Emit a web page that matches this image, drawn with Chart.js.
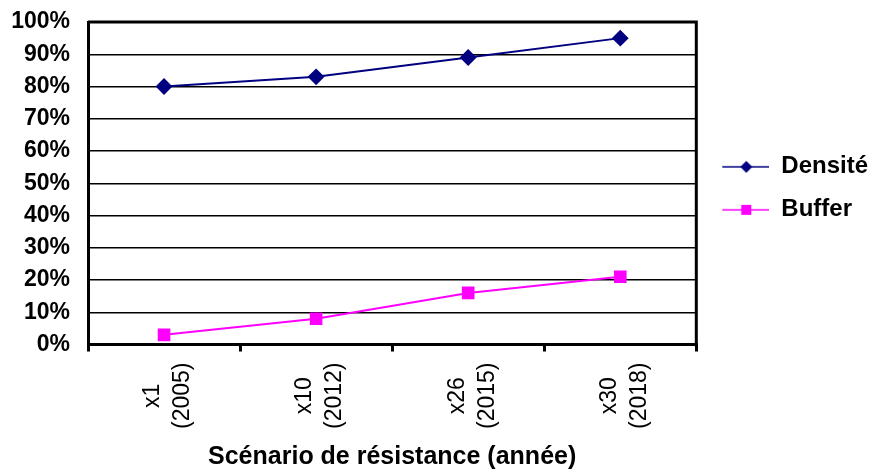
<!DOCTYPE html>
<html>
<head>
<meta charset="utf-8">
<script src="https://cdn.jsdelivr.net/npm/chart.js@4"></script>
<style>
  html, body { margin: 0; padding: 0; background: #fff; }
  #wrap { width: 871px; height: 470px; }
</style>
</head>
<body>
<div id="wrap"><canvas id="chart" width="871" height="470"></canvas></div>
<script>
// categories (two-line labels) and series values in percent
const categories = [['x1', '(2005)'], ['x10', '(2012)'], ['x26', '(2015)'], ['x30', '(2018)']];
const densite = [80, 83, 89, 95];
const buffer = [3, 8, 16, 21];
const yMin = 0, yMax = 100, yStep = 10;
const xTitle = 'Scénario de résistance (année)';

const FONT = "'Liberation Sans', Arial, sans-serif";
const X_PAD = 11;
const X_FONT = 23;

// legend swatch: short line with marker in the middle (small blank margin on the left)
function swatch(color, shape) {
    const c = document.createElement('canvas');
    c.width = 54; c.height = 14;
    const g = c.getContext('2d');
    g.strokeStyle = color; g.lineWidth = 1.5;
    g.beginPath(); g.moveTo(7, 7); g.lineTo(54, 7); g.stroke();
    g.fillStyle = color;
    g.beginPath();
    if (shape === 'diamond') {
        g.moveTo(31, 1); g.lineTo(37, 7); g.lineTo(31, 13); g.lineTo(25, 7);
    } else {
        g.rect(26, 2, 10, 10);
    }
    g.closePath(); g.fill();
    return c;
}

// full black frame around the plot area
const framePlugin = {
    id: 'frame',
    afterDraw(chart) {
        const a = chart.chartArea, ctx = chart.ctx;
        ctx.save();
        ctx.strokeStyle = '#000';
        ctx.lineWidth = 3;
        ctx.beginPath();
        ctx.moveTo(a.left, a.top); ctx.lineTo(a.right, a.top); ctx.lineTo(a.right, a.bottom);
        ctx.stroke();
        ctx.restore();
    }
};

// centred, rotated x labels (Excel style); Chart.js reserves their space
const xLabelPlugin = {
    id: 'xlabels',
    afterDraw(chart) {
        const s = chart.scales.x, ctx = chart.ctx;
        const lh = 30;
        ctx.save();
        ctx.font = X_FONT + 'px ' + FONT;
        ctx.fillStyle = '#000';
        ctx.textAlign = 'center';
        ctx.textBaseline = 'middle';
        let w = 0;
        categories.forEach(l => l.forEach(t => { w = Math.max(w, ctx.measureText(t).width); }));
        const cy = s.top + 7 + X_PAD + w / 2;
        categories.forEach((lines, i) => {
            const px = s.getPixelForTick(i) + 4;
            ctx.save();
            ctx.translate(px, cy);
            ctx.rotate(-Math.PI / 2);
            lines.forEach((t, j) => {
                ctx.fillText(t, 0, (j - (lines.length - 1) / 2) * lh);
            });
            ctx.restore();
        });
        ctx.restore();
    }
};

new Chart(document.getElementById('chart'), {
    type: 'line',
    data: {
        labels: categories,
        datasets: [{
            label: 'Densité',
            data: densite,
            borderColor: '#000080',
            backgroundColor: '#000080',
            borderWidth: 2,
            pointStyle: 'rectRot',
            pointRadius: 7,
            pointHoverRadius: 7,
            tension: 0
        }, {
            label: 'Buffer',
            data: buffer,
            borderColor: '#ff00ff',
            backgroundColor: '#ff00ff',
            borderWidth: 2,
            pointStyle: 'rect',
            pointRadius: 7.5,
            pointHoverRadius: 7.5,
            tension: 0
        }]
    },
    options: {
        responsive: false,
        animation: false,
        layout: { padding: { top: 22, left: 0, right: -7, bottom: 0 } },
        plugins: {
            tooltip: { enabled: false },
            legend: {
                position: 'right',
                fullSize: false,
                // empty title only nudges the items a few px down, like the original
                title: { display: true, text: '', padding: { top: 0, bottom: 9 }, font: { size: 1 } },
                labels: {
                    usePointStyle: true,
                    pointStyleWidth: 54,
                    padding: 19,
                    color: '#000',
                    font: { family: FONT, size: 24, weight: 'bold' },
                    generateLabels(chart) {
                        return chart.data.datasets.map((d, i) => ({
                            text: d.label,
                            pointStyle: swatch(d.borderColor, i === 0 ? 'diamond' : 'square'),
                            fillStyle: d.borderColor,
                            strokeStyle: d.borderColor,
                            lineWidth: 0,
                            hidden: false,
                            datasetIndex: i,
                            fontColor: '#000'
                        }));
                    }
                }
            }
        },
        scales: {
            x: {
                offset: true,
                grid: { offset: true, drawOnChartArea: false, color: '#000', lineWidth: 3, tickLength: 7 },
                border: { color: '#000', width: 3 },
                ticks: {
                    color: 'rgba(0,0,0,0)',
                    minRotation: 90,
                    maxRotation: 90,
                    padding: X_PAD,
                    font: { family: FONT, size: X_FONT }
                },
                title: {
                    display: true,
                    text: xTitle,
                    color: '#000',
                    padding: { top: 5, bottom: 0 },
                    font: { family: FONT, size: 25, weight: 'bold', lineHeight: 1 }
                }
            },
            y: {
                min: yMin,
                max: yMax,
                afterFit(scale) {
                    scale.width = 88;
                    scale.paddingTop = 0;
                    scale.paddingBottom = 0;
                },
                grid: { color: '#000', lineWidth: 1.5, drawTicks: false },
                border: { color: '#000', width: 3 },
                ticks: {
                    stepSize: yStep,
                    padding: 18,
                    color: '#000',
                    font: { family: FONT, size: 23, weight: 'bold' },
                    callback: v => v + '%'
                }
            }
        }
    },
    plugins: [framePlugin, xLabelPlugin]
});
</script>
</body>
</html>
